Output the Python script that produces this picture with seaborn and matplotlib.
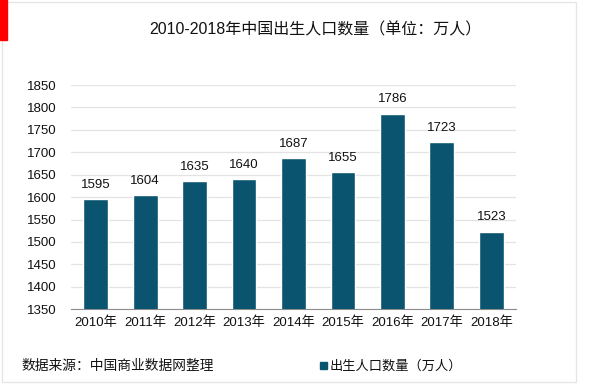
import pandas as pd
import matplotlib.pyplot as plt
import seaborn as sns
from matplotlib.patches import Rectangle

years = ['2010年', '2011年', '2012年', '2013年', '2014年', '2015年', '2016年', '2017年', '2018年']
births = [1595, 1604, 1635, 1640, 1687, 1655, 1786, 1723, 1523]
yticks = [1350, 1400, 1450, 1500, 1550, 1600, 1650, 1700, 1750, 1800, 1850]

df = pd.DataFrame({'year': years, 'births': births})

sns.set_style('white')
plt.rcParams['font.family'] = ['Liberation Sans', 'Noto Sans CJK SC']

bar_color = '#0b5470'
txt = '#111111'

fig = plt.figure(figsize=(6, 3.85), dpi=100)
ax = fig.add_axes([0.1183, 0.197, 0.7417, 0.582])

sns.barplot(data=df, x='year', y='births', color=bar_color, width=0.5,
            saturation=1, ax=ax, zorder=3)

for i, v in enumerate(births):
    ax.annotate(str(v), (i, v), xytext=(0, 6), textcoords='offset points',
                ha='center', va='bottom', fontsize=9.5, color=txt)

ax.set_ylim(1350, 1850)
ax.set_yticks(yticks)
ax.set_xlim(-0.5, len(years) - 0.5)
ax.yaxis.grid(True, color='#e3e3e3', linewidth=0.9, zorder=0)
ax.set_xlabel('')
ax.set_ylabel('')
ax.tick_params(axis='both', length=0, labelsize=9.5, colors=txt)
ax.tick_params(axis='y', pad=10.5)
ax.tick_params(axis='x', pad=5.5)
for side in ['left', 'right', 'top']:
    ax.spines[side].set_visible(False)
ax.spines['bottom'].set_color('#8c8c8c')

# frame and red marker
fig.patches.append(Rectangle((0.003, 0.008), 0.957, 0.988, transform=fig.transFigure,
                             fill=False, edgecolor='#e6e6e6', linewidth=1))
fig.patches.append(Rectangle((0.0, 0.896), 0.012, 0.104, transform=fig.transFigure,
                             color='#ff0000'))

fig.text(0.525, 0.922, '2010-2018年中国出生人口数量（单位：万人）', ha='center', va='center',
         fontsize=11.5, color=txt)
fig.text(0.036, 0.049, '数据来源：中国商业数据网整理', ha='left', va='center',
         fontsize=9.9, color=txt)

# legend
fig.patches.append(Rectangle((0.534, 0.0416), 0.0117, 0.018, transform=fig.transFigure,
                             color=bar_color))
fig.text(0.55, 0.049, '出生人口数量（万人）', ha='left', va='center',
         fontsize=9.5, color=txt)

fig.savefig('out.png', dpi=100)
